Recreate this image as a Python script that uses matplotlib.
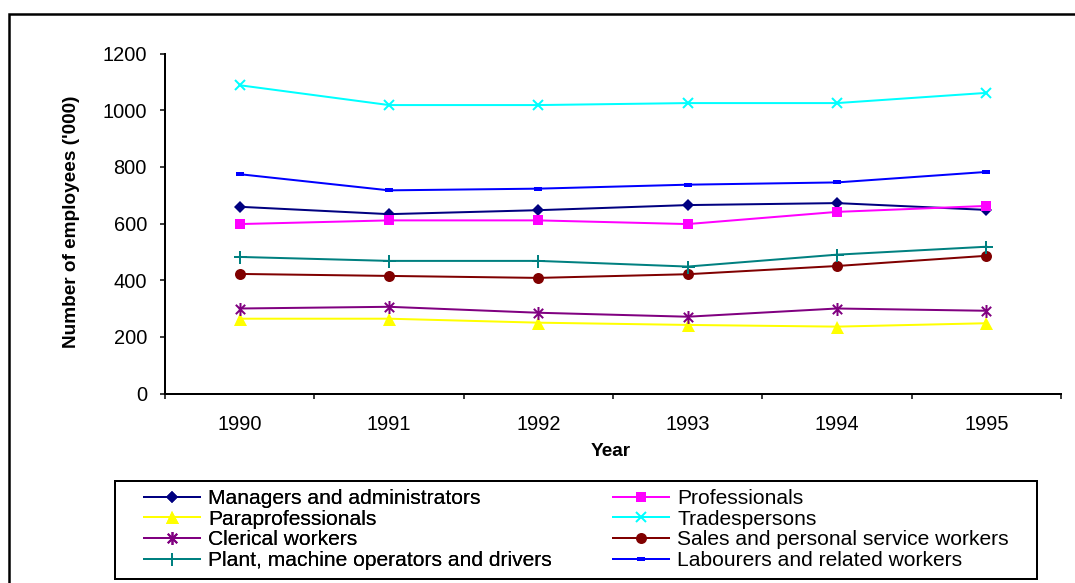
import matplotlib
matplotlib.use('Agg')
import matplotlib.pyplot as plt
from matplotlib.path import Path
from matplotlib.patches import Rectangle
import numpy as np

plt.rcParams['font.family'] = ['Liberation Sans', 'DejaVu Sans']

years = ['1990', '1991', '1992', '1993', '1994', '1995']
managers = [659, 633, 647, 665, 672, 648]
professionals = [598, 611, 611, 598, 641, 662]
paraprofessionals = [264, 264, 250, 242, 236, 248]
tradespersons = [1088, 1018, 1018, 1025, 1025, 1061]
clerical = [300, 306, 285, 271, 300, 292]
sales = [422, 415, 408, 421, 450, 486]
plant = [482, 468, 468, 448, 490, 518]
labourers = [774, 717, 723, 737, 745, 782]

labels = ['Managers and administrators', 'Professionals', 'Paraprofessionals',
          'Tradespersons', 'Clerical workers', 'Sales and personal service workers',
          'Plant, machine operators and drivers', 'Labourers and related workers']
series = [managers, professionals, paraprofessionals, tradespersons,
          clerical, sales, plant, labourers]
colors = ['#000080', '#FF00FF', '#FFFF00', '#00FFFF', '#800080', '#800000',
          '#008080', '#0000FF']

star = Path([(0, -1), (0, 1), (-0.72, -0.72), (0.72, 0.72), (-0.72, 0.72), (0.72, -0.72)],
            [Path.MOVETO, Path.LINETO, Path.MOVETO, Path.LINETO, Path.MOVETO, Path.LINETO])
dash = Path([(-1, -0.45), (1, -0.45), (1, 0.45), (-1, 0.45), (-1, -0.45)],
            [Path.MOVETO, Path.LINETO, Path.LINETO, Path.LINETO, Path.CLOSEPOLY])
styles = [
    dict(marker='D', markersize=9, mew=0),
    dict(marker='s', markersize=10, mew=0),
    dict(marker='^', markersize=13, mew=0),
    dict(marker='x', markersize=10, mew=2),
    dict(marker=star, markersize=13, mew=2, fillstyle='none'),
    dict(marker='o', markersize=11, mew=0),
    dict(marker='+', markersize=13, mew=2),
    dict(marker=dash, markersize=8, mew=0),
]

W, H = 1075, 583
fig = plt.figure(figsize=(W / 72, H / 72), dpi=72)
ax = fig.add_axes([165 / W, (H - 393.5) / H, 896 / W, 340 / H])

x = np.arange(len(years))
handles = []
for vals, c, st in zip(series, colors, styles):
    ln, = ax.plot(x, vals, color=c, lw=2, markerfacecolor=c, markeredgecolor=c,
                  clip_on=False, **st)
    handles.append(ln)

ax.set_xlim(-0.5, len(years) - 0.5)
ax.set_ylim(0, 1200)
ax.set_yticks(np.arange(0, 1201, 200))
ax.set_xticks(np.arange(-0.5, len(years), 1))
ax.set_xticklabels([])
ax.set_xticks(x, minor=True)
ax.set_xticklabels(years, minor=True)
ax.tick_params(axis='x', which='minor', length=0, pad=21, labelsize=20)
ax.tick_params(axis='x', which='major', length=5, width=1.5, direction='out')
ax.tick_params(axis='y', length=5, width=1.5, direction='out', pad=13, labelsize=20)
for s in ['top', 'right']:
    ax.spines[s].set_visible(False)
for s in ['left', 'bottom']:
    ax.spines[s].set_linewidth(2)

fig.text(72 / W, 1 - 222 / H, "Number of employees ('000)", rotation=90,
         ha='center', va='center', fontsize=19, fontweight='bold')
fig.text(611 / W, 1 - 452 / H, 'Year', ha='center', va='center',
         fontsize=19, fontweight='bold')

# legend (row-major order in reference: two columns)
col1 = [0, 2, 4, 6]
col2 = [1, 3, 5, 7]
common = dict(loc='upper left', frameon=False, borderpad=0, handlelength=2.67,
              handletextpad=0.38, labelspacing=0.08, fontsize=21, numpoints=1,
              borderaxespad=0)
leg1 = fig.legend([handles[i] for i in col1], [labels[i] for i in col1],
                  bbox_to_anchor=(144 / W, 1 - 489 / H), **common)
fig.add_artist(leg1)
leg2 = fig.legend([handles[i] for i in col2], [labels[i] for i in col2],
                  bbox_to_anchor=(613 / W, 1 - 489 / H), **common)

fig.add_artist(Rectangle((115 / W, (H - 579) / H), 922 / W, 98 / H, fill=False,
                         lw=2, edgecolor='black', transform=fig.transFigure))
fig.add_artist(Rectangle((9 / W, -0.2), 1.5, (1 - 14 / H) + 0.2, fill=False,
                         lw=2.5, edgecolor='black', transform=fig.transFigure))

fig.savefig('out.png', dpi=72)
